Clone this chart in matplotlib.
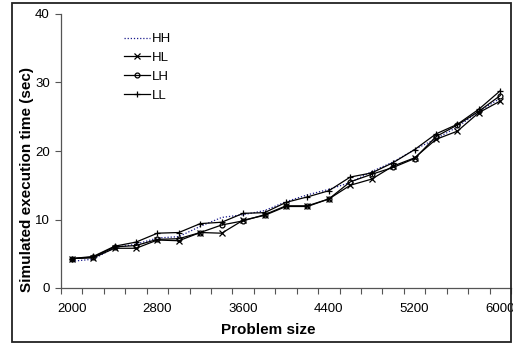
import matplotlib
matplotlib.use("Agg")
import matplotlib.pyplot as plt
from matplotlib.patches import Rectangle
import numpy as np

plt.rcParams['font.family'] = ['Liberation Sans', 'DejaVu Sans']

sizes = [2000, 2200, 2400, 2600, 2800, 3000, 3200, 3400, 3600, 3800, 4000,
         4200, 4400, 4600, 4800, 5000, 5200, 5400, 5600, 5800, 6000]
HH = [3.9, 4.2, 5.9, 6.4, 7.3, 7.5, 9.0, 10.3, 10.7, 11.3, 12.6,
      13.6, 14.4, 15.4, 17.0, 18.4, 20.2, 21.8, 23.5, 25.8, 27.7]
HL = [4.3, 4.4, 5.8, 5.8, 7.0, 6.9, 8.1, 8.0, 9.9, 10.6, 11.9,
      11.9, 13.0, 15.0, 15.9, 17.8, 19.0, 21.7, 22.9, 25.6, 27.3]
LH = [4.3, 4.5, 6.0, 6.2, 7.1, 7.2, 8.1, 9.2, 9.8, 10.7, 12.0,
      12.0, 13.0, 15.5, 16.6, 17.6, 18.9, 22.1, 23.8, 25.8, 28.1]
LL = [4.3, 4.6, 6.1, 6.7, 8.0, 8.1, 9.4, 9.6, 10.9, 11.0, 12.5,
      13.3, 14.2, 16.2, 16.8, 18.3, 20.2, 22.5, 23.9, 26.1, 28.8]
yticks = [0, 10, 20, 30, 40]

W, H = 513, 343
fig = plt.figure(figsize=(W / 100, H / 100), dpi=100)
ax = fig.add_axes([61 / W, 1 - 288 / H, (511 - 61) / W, (288 - 14) / H])

x = np.arange(len(sizes))
ax.plot(x, HH, ls=(0, (1, 1.5)), color='#1a1a8c', lw=0.9, label='HH')
ax.plot(x, HL, color='black', lw=0.9, marker='x', ms=4, mew=0.9, label='HL')
ax.plot(x, LH, color='black', lw=0.9, marker='o', ms=3.5, mfc='none', mew=0.9, label='LH')
ax.plot(x, LL, color='black', lw=0.9, marker='+', ms=5, mew=0.9, label='LL')

ax.set_xlim(-0.5, len(sizes) - 0.5)
ax.set_ylim(0, 40)
ax.set_yticks(yticks)
ax.set_xticks(x[::4])
ax.set_xticklabels([str(s) for s in sizes[::4]])
ax.set_xticks(np.arange(-0.5, len(sizes), 1.0), minor=True)
ax.tick_params(axis='x', which='major', length=0, labelsize=9.5, pad=11)
ax.tick_params(axis='x', which='minor', length=4, width=0.8, color='#555555', direction='out')
ax.tick_params(axis='y', length=4, width=0.8, color='#555555', labelsize=9.5, pad=4)

for s in ['top', 'right']:
    ax.spines[s].set_visible(False)
for s in ['left', 'bottom']:
    ax.spines[s].set_color('#555555')
    ax.spines[s].set_linewidth(0.9)

ax.set_xlabel('Problem size', fontsize=11, fontweight='bold')
ax.set_ylabel('Simulated execution time (sec)', fontsize=11, fontweight='bold')
ax.xaxis.set_label_coords((268 - 61) / 450, -(330 - 288) / 274, transform=ax.transAxes)
ax.yaxis.set_label_coords(-(61 - 27) / 450, (288 - 179) / 274, transform=ax.transAxes)
ax.xaxis.label.set_va('center')
ax.yaxis.label.set_va('center')

leg = ax.legend(loc='upper left', bbox_to_anchor=(0.128, 0.95), frameon=False,
                fontsize=9.5, handlelength=1.95, handletextpad=0.2, labelspacing=0.5,
                borderaxespad=0)

fig.patches.append(Rectangle((12 / W, 1 / H), (511 - 12) / W, (341 - 2) / H,
                             transform=fig.transFigure, fill=False,
                             edgecolor='#222222', lw=1.3))

fig.savefig('out.png', dpi=100)
